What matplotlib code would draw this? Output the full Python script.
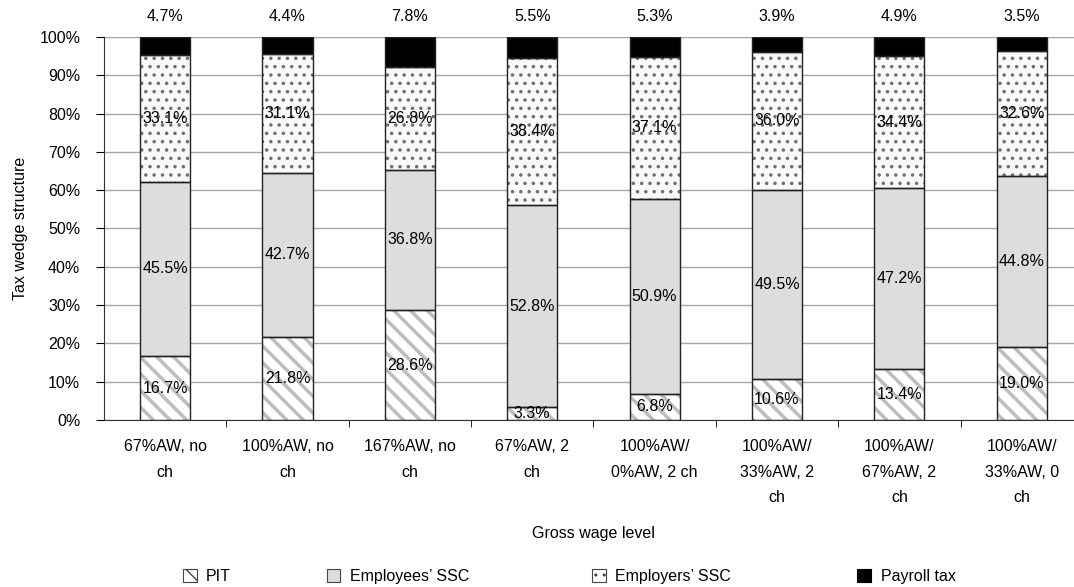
import matplotlib
matplotlib.use("Agg")
import matplotlib.pyplot as plt
import numpy as np
from matplotlib.patches import Patch

plt.rcParams['font.family'] = ['Liberation Sans Narrow', 'Liberation Sans', 'DejaVu Sans']

# tax wedge components, % of total wedge
categories = ["67%AW, no\nch", "100%AW, no\nch", "167%AW, no\nch", "67%AW, 2\nch",
              "100%AW/\n0%AW, 2 ch", "100%AW/\n33%AW, 2\nch", "100%AW/\n67%AW, 2\nch",
              "100%AW/\n33%AW, 0\nch"]
pit = [16.7, 21.8, 28.6, 3.3, 6.8, 10.6, 13.4, 19.0]
employees_ssc = [45.5, 42.7, 36.8, 52.8, 50.9, 49.5, 47.2, 44.8]
employers_ssc = [33.1, 31.1, 26.8, 38.4, 37.1, 36.0, 34.4, 32.6]
payroll_tax = [4.7, 4.4, 7.8, 5.5, 5.3, 3.9, 4.9, 3.5]


def hatch_lw(patch, lw):
    if hasattr(patch, "set_hatch_linewidth"):
        patch.set_hatch_linewidth(lw)


fig = plt.figure(figsize=(10.74, 5.87), dpi=100)
ax = fig.add_axes([0.0968, 0.2845, 0.9115, 0.6525])

x = np.arange(len(categories))
w = 0.41
fs = 11.5

# name, values, face, hatch, hatch colour, hatch linewidth
series = [
    ("PIT", pit, "white", "\\\\", "#bdbdbd", 2.5),
    ("Employees\u2019 SSC", employees_ssc, "#dddddd", None, None, 0),
    ("Employers\u2019 SSC", employers_ssc, "#f9f9f9", "..", "#6f6f6f", 1.3),
    ("Payroll tax", payroll_tax, "black", None, None, 0),
]

bottom = np.zeros(len(x))
for name, vals, fc, hatch, hc, hlw in series:
    vals = np.array(vals)
    if hatch:
        bars = ax.bar(x, vals, w, bottom=bottom, color=fc, edgecolor=hc, hatch=hatch, lw=0, zorder=2)
        for b in bars:
            hatch_lw(b, hlw)
    else:
        ax.bar(x, vals, w, bottom=bottom, color=fc, lw=0, zorder=2)
    ax.bar(x, vals, w, bottom=bottom, fill=False, edgecolor="#222222", lw=1, zorder=3)
    if name == "Payroll tax":
        for xi, v in zip(x, vals):
            ax.text(xi, 103.4, f"{v:.1f}%", ha="center", va="bottom", fontsize=fs)
    else:
        for xi, b, v in zip(x, bottom, vals):
            ax.text(xi, b + v / 2, f"{v:.1f}%", ha="center", va="center", fontsize=fs, zorder=4)
    bottom += vals

ax.set_ylim(0, 100)
ax.set_xlim(-0.5, len(x) - 0.5)
ax.set_yticks(np.arange(0, 101, 10))
ax.set_yticklabels([f"{v}%" for v in range(0, 101, 10)], fontsize=fs)
ax.set_xticks(x)
ax.set_xticklabels(categories, fontsize=fs, linespacing=1.85)
ax.set_xticks(np.arange(0.5, len(x) - 0.5, 1), minor=True)
ax.tick_params(axis="x", which="major", length=0, pad=14)
ax.tick_params(axis="x", which="minor", length=5, direction="out")
ax.tick_params(axis="y", length=6, direction="out", pad=11)
ax.yaxis.grid(True, color="#a6a6a6", lw=1, zorder=0)
ax.set_axisbelow(True)
for s in ["top", "right"]:
    ax.spines[s].set_visible(False)
ax.spines["left"].set_color("#333333")
ax.spines["bottom"].set_color("#333333")

ax.set_xlabel("Gross wage level", fontsize=fs, labelpad=15)
ax.set_ylabel("Tax wedge structure", fontsize=fs, labelpad=8)

# legend entries spaced out along the bottom
pit_handle = Patch(facecolor="white", edgecolor="#444444", hatch="\\\\", lw=0.8)
dot_handle = Patch(facecolor="white", edgecolor="#444444", hatch="..", lw=0.8)
legend_items = [
    (pit_handle, "PIT", 0.157),
    (Patch(facecolor="#dddddd", edgecolor="#444444", lw=0.8), "Employees\u2019 SSC", 0.291),
    (dot_handle, "Employers\u2019 SSC", 0.538),
    (Patch(facecolor="black", edgecolor="black", lw=0.8), "Payroll tax", 0.785),
]
for handle, label, xpos in legend_items:
    fig.legend(handles=[handle], labels=[label], loc="lower left", bbox_to_anchor=(xpos, -0.019),
               frameon=False, fontsize=fs, handlelength=0.85, handleheight=0.85,
               handletextpad=0.6)

fig.savefig("out.png", dpi=100)
